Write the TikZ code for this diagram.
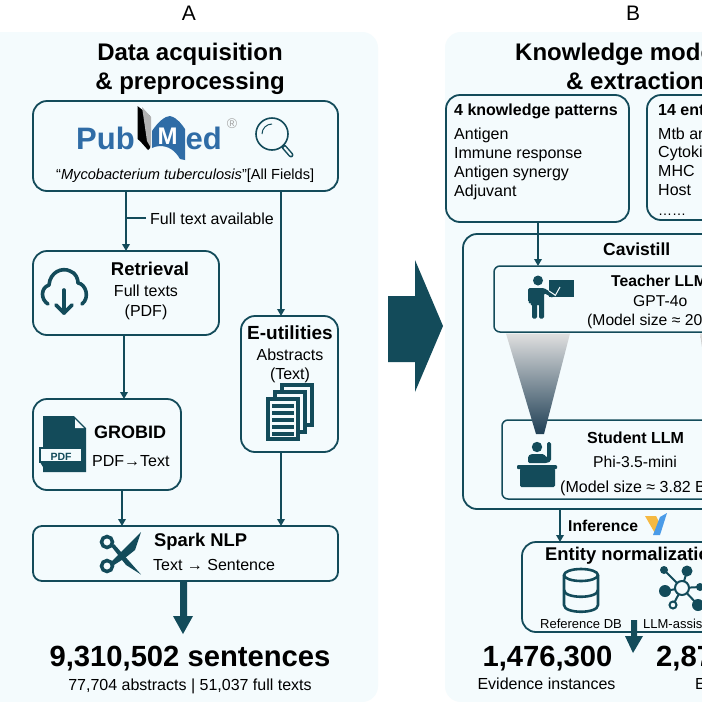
\documentclass[tikz,border=0pt]{standalone}
\usepackage{fontspec}
\setmainfont{Liberation Sans}
\usetikzlibrary{arrows.meta}
\definecolor{teal1}{HTML}{134B5A}
\definecolor{panel}{HTML}{F4FBFD}
\definecolor{pmblue}{HTML}{2F6CA6}
\definecolor{logoy}{HTML}{F5B942}
\definecolor{logob}{HTML}{4A9BE8}
\definecolor{fundark}{HTML}{1F3F55}
\newcommand\myfs[1]{\fontsize{#1}{#1}\selectfont}
\tikzset{
 box/.style={draw=teal1,line width=1.8pt,rounded corners=14pt,fill=panel,inner sep=0pt,outer sep=0pt},
 sbox/.style={draw=teal1,line width=1.5pt,rounded corners=6pt,fill=panel,inner sep=0pt,outer sep=0pt},
 arr/.style={draw=teal1,line width=1.9pt,-{Triangle[width=7.5pt,length=7pt]}},
 txt/.style={inner sep=0pt,text=black,anchor=mid},
 ltxt/.style={inner sep=0pt,text=black,anchor=mid west},
 fr/.style={font=\myfs{#1},yshift={-0.23*#1*1pt}},
 fb/.style={font={\myfs{#1}\bfseries},yshift={-0.23*#1*1pt}},
 icl/.style={draw=teal1,line width=3pt,line cap=round,line join=round},
 big/.style={fill=teal1,draw=none},
}
\begin{document}
\begin{tikzpicture}[x=1pt,y=-1pt]
\useasboundingbox (0,0) rectangle (702,702);
\clip (0,0) rectangle (702,702);
\fill[white] (0,0) rectangle (702,702);
% panels
\fill[panel,rounded corners=16pt] (-20,32) rectangle (378,702);
\fill[panel,rounded corners=16pt] (445,32) rectangle (760,702);
\node[txt,fr=21] (labA) at (189,13) {A};
\node[txt,fr=21] (labB) at (633,13) {B};
% A titles
\node[txt,fb=24] (t1) at (190,52) {Data acquisition};
\node[txt,fb=24] (t2) at (190,81) {\& preprocessing};
% boxes A
\node[box,minimum width=305pt,minimum height=90pt] (pub) at (185.5,146) {};
\node[box,minimum width=186pt,minimum height=84pt] (ret) at (126,293) {};
\node[box,minimum width=97pt,minimum height=136pt] (eut) at (289.5,384) {};
\node[box,minimum width=148pt,minimum height=91pt] (gro) at (107,444.5) {};
\node[box,minimum width=305pt,minimum height=55pt,rounded corners=9pt] (spark) at (185.5,553.5) {};
% connectors A
\draw[arr] (126,0 |- pub.south) -- (126,0 |- ret.north);
\coordinate (ftick) at (146,218);
\draw[teal1,line width=1.9pt] (ftick) -- (126,218);
\draw[arr] (281,0 |- pub.south) -- (281,0 |- eut.north);
\draw[arr] (124,0 |- ret.south) -- (124,0 |- gro.north);
\draw[arr] (122,0 |- gro.south) -- (122,0 |- spark.north);
\draw[arr] (281,0 |- eut.south) -- (281,0 |- spark.north);
\node[ltxt,fr=16] (ftxt) at (150,218) {Full text available};
% PubMed logo
\node[ltxt,text=pmblue,fb=31] (pb) at (76,140) {Pub};
\node[ltxt,text=pmblue,fb=31] (ed) at (185.5,140) {ed};
\fill[black] (137.5,106) -- (150,116) -- (150,148) -- (148,150) -- (140,141) -- (137.5,139) -- cycle;
\fill[gray!60] (142,107) -- (151,117) -- (151,148) -- (147,141) -- cycle;
\fill[pmblue] (152,131) .. controls (158,122) and (165,116) .. (170,116) .. controls (178,118) and (182,125) .. (185,129) -- (185,160) -- (180,159) .. controls (175,150) and (168,146) .. (160,146) .. controls (157,146) and (154,147) .. (152,148) -- cycle;
\node[txt,text=white,fb=24] (pm) at (167.5,136) {M};
\node[txt,text=gray!70,fr=14] (rr) at (232,123) {®};
\draw[teal1,line width=1.6pt] (272,134) circle (16);
\draw[teal1,line width=1pt] (262,134) arc (180:270:10);
\draw[teal1,line width=5pt,line cap=round] (284,147) -- (291,155);
\draw[panel,line width=2pt,line cap=round] (284.5,147.5) -- (291,155);
\node[ltxt,fr=14.6] (pq) at (56,173) {“\textit{Mycobacterium tuberculosis}”[All Fields]};
% Retrieval
\node[txt,fb=18.5] (r1) at (150,269) {Retrieval};
\node[txt,fr=16] (r2) at (146,290) {Full texts};
\node[txt,fr=16] (r3) at (146,310) {(PDF)};
\draw[icl,line width=3.6pt] (48,304) .. controls (41,300) and (40,288) .. (49,285) .. controls (50,272) and (62,267) .. (70,271) .. controls (76,273) and (78,279) .. (78,283) .. controls (86,284) and (90,298) .. (82,304);
\draw[icl,line width=3.6pt] (64,290) -- (64,313);
\draw[icl,line width=3.6pt] (56,305) -- (64,313) -- (72,305);
% E-utilities
\node[txt,fb=19] (e1) at (290,332) {E-utilities};
\node[txt,fr=16] (e2) at (290,354) {Abstracts};
\node[txt,fr=16] (e3) at (290,373) {(Text)};
\foreach \dx/\dy in {14/-14,7/-7}{
 \fill[teal1] (266+\dx,397+\dy) rectangle (300+\dx,441+\dy);
 \fill[panel] (270+\dx,401+\dy) rectangle (296+\dx,437+\dy);
}
\fill[teal1] (266,397) rectangle (300,441);
\fill[panel] (270,401) rectangle (296,437);
\foreach \y in {404,411,418,425,432}{\fill[teal1] (272,\y) rectangle (294,\y+4);}
% GROBID
\node[ltxt,fb=18] (g1) at (94,432) {GROBID};
\node[ltxt,fr=16] (g2) at (92,460) {PDF→Text};
\fill[teal1] (43,416) -- (74,416) -- (86,428) -- (86,472) -- (43,472) -- cycle;
\fill[panel] (75,419) -- (84,428) -- (75,428) -- cycle;
\fill[panel,draw=teal1,line width=1.2pt] (40,448) rectangle (82,462);
\fill[teal1] (40,462) -- (43,462) -- (43,467) -- cycle;
\node[txt,text=teal1,fb=10.5] (pdfl) at (61,455) {PDF};
% Spark
\node[ltxt,fb=18.4] (s1) at (154,540) {Spark NLP};
\node[ltxt,fr=16] (s2) at (153,564) {Text → Sentence};
\draw[teal1,line width=3.5pt] (107,542) circle (5.5) (107,566) circle (5.5);
\fill[teal1] (111,546) -- (114,544) -- (141,574.5) -- (126,565) -- cycle;
\fill[teal1] (111,562) -- (122,551) -- (141,532) -- (135,550) -- (125,558) -- (114,565) -- cycle;
% big arrow A
\fill[big] (180,581) -- (187,581) -- (187,616) -- (193,616) -- (183,634) -- (173,616) -- (180,616) -- cycle;
\node[txt,fb=29.2] (n1) at (190,657) {9,310,502 sentences};
\node[txt,fr=16] (n2) at (190,684) {77,704 abstracts | 51,037 full texts};
% middle arrow
\fill[big] (388,296) -- (415,296) -- (415,260) -- (443,326) -- (415,392) -- (415,362) -- (388,362) -- cycle;
% B titles
\node[ltxt,fb=24] (t3) at (515,52) {Knowledge mode};
\node[ltxt,fb=24] (t4) at (566,81) {\& extraction};
% top boxes
\node[box,minimum width=183pt,minimum height=127pt] (kp) at (537.5,158.5) {};
\node[box,minimum width=183pt,minimum height=125pt] (ent) at (738.5,157.5) {};
\node[ltxt,fb=16] (kp0) at (454,109) {4 knowledge patterns};
\node[ltxt,fr=16] (kp1) at (454,133) {Antigen};
\node[ltxt,fr=16] (kp2) at (454,152.5) {Immune response};
\node[ltxt,fr=16] (kp3) at (454,171.5) {Antigen synergy};
\node[ltxt,fr=16] (kp4) at (454,190.5) {Adjuvant};
\node[ltxt,fb=16] (en0) at (658,109) {14 ent};
\node[ltxt,fr=16] (en1) at (658,133) {Mtb ar};
\node[ltxt,fr=16] (en2) at (658,151.5) {Cytoki};
\node[ltxt,fr=16] (en3) at (658,170) {MHC};
\node[ltxt,fr=16] (en4) at (658,189) {Host};
\node[ltxt,fr=14] (en5) at (658,210) {……};
% Cavistill
\node[box,minimum width=330pt,minimum height=275pt] (cav) at (628,371.5) {};
\node[ltxt,fb=17.5] (c0) at (603,249) {Cavistill};
\node[sbox,minimum width=300pt,minimum height=66pt] (tea) at (644,299) {};
\node[sbox,minimum width=300pt,minimum height=79pt] (stu) at (652,459.5) {};
\draw[arr] (538,0 |- kp.south) -- (538,0 |- tea.north);
% funnels
\shade[top color=gray!25,middle color=gray!65,bottom color=fundark] (506,333.5) -- (570,333.5) -- (544,434) -- (536,434) -- cycle;
\shade[top color=gray!25,bottom color=gray!45] (700,333.5) -- (702,333.5) -- (702,347) -- cycle;
\node[ltxt,fb=15.7] (te1) at (611,280) {Teacher LLM};
\node[ltxt,fr=15.7] (te2) at (633,300) {GPT-4o};
\node[ltxt,fr=15.7] (te3) at (587,319) {(Model size ≈ 20};
\node[ltxt,fb=16] (st1) at (587,437) {Student LLM};
\node[ltxt,fr=15.7] (st2) at (593,461) {Phi-3.5-mini};
\node[ltxt,fr=16] (st3) at (560,486) {(Model size ≈ 3.82 B};
% teacher icon
\fill[teal1] (538,280.5) circle (5);
\fill[teal1,rounded corners=1.5pt] (528,288) -- (544,288) -- (555,295) -- (553,298) -- (544,293) -- (544,304) -- (544,318.5) -- (539,318.5) -- (539,304) -- (537,304) -- (537,318.5) -- (532,318.5) -- (532,304) -- (530,304) -- (530,302) -- (528,302) -- cycle;
\fill[teal1] (549,279.5) rectangle (574,297);
\draw[panel,line width=1pt] (555,296) -- (560,287);
\draw[panel,line width=1pt] (549,291) -- (555,295);
% student icon
\fill[teal1] (537,447) circle (5.2);
\fill[teal1,rounded corners=1.5pt] (528,463) -- (528,456) -- (531,454) -- (544,454) -- (546,457) -- (547,458) -- (547,442) -- (551,442) -- (551,461) -- (547,463) -- cycle;
\fill[teal1,rounded corners=1pt] (517,465) rectangle (557,469);
\fill[teal1,rounded corners=1.5pt] (520,468) rectangle (555,487);
% Entity normalization
\node[box,minimum width=300pt,minimum height=90pt] (norm) at (672,587) {};
\draw[arr] (560,0 |- cav.south) -- (560,0 |- norm.north);
% Inference
\node[ltxt,fb=15.7] (inf) at (568,525) {Inference};
\fill[logoy] (645,516) -- (656,516) -- (662,528) -- (656,535) -- cycle;
\fill[logob] (667,513) -- (660,535) -- (653,535) -- (660,517) -- cycle;
\node[ltxt,fb=18.4] (no0) at (545,554) {Entity normalizatio};
\node[ltxt,fr=13] (no1) at (540,623) {Reference DB};
\node[ltxt,fr=13] (no2) at (643,623) {LLM-assis};
% DB icon
\draw[teal1,line width=2.6pt,line join=round] (581,575) ellipse (17 and 6);
\draw[teal1,line width=2.6pt] (564,575) -- (564,605) .. controls (564,614) and (598,614) .. (598,605) -- (598,575);
\draw[teal1,line width=2.6pt] (564,590) .. controls (564,599) and (598,599) .. (598,590);
% network icon
\draw[teal1,line width=2pt] (682,588) -- (664,570) (682,588) -- (687,571) (682,588) -- (665,591) (682,588) -- (673,605) (682,588) -- (698,605) (682,588) -- (700,587);
\fill[panel,draw=teal1,line width=2pt] (682,588) circle (7);
\fill[teal1] (664,570) circle (4) (687,571) circle (5.5) (665,591) circle (6) (698,605) circle (6) (700,587) circle (4);
\fill[panel,draw=teal1,line width=2pt] (673,605) circle (3.5);
% big arrow B
\fill[big] (631,620) -- (637,620) -- (637,636) -- (643,636) -- (633,653) -- (625,636) -- (631,636) -- cycle;
\node[txt,fb=29.2] (m1) at (547.5,657) {1,476,300};
\node[txt,fr=16] (m2) at (546.5,683) {Evidence instances};
\node[ltxt,fb=29.2] (m3) at (656,657) {2,87};
\node[ltxt,fr=16] (m4) at (695,683) {E};
\end{tikzpicture}
\end{document}
